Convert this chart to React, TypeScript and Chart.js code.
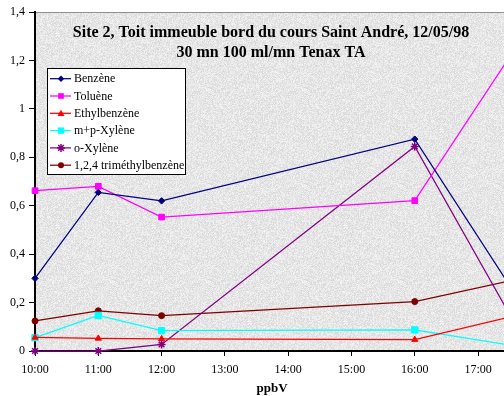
import React, { useEffect, useRef } from "react";
import { Chart, registerables } from "chart.js";

Chart.register(...registerables);

const times = [10, 11, 12, 16, 17.5];
const hourTicks = [10, 11, 12, 13, 14, 15, 16, 17];
const seriesLabels = [
  "Benzène",
  "Toluène",
  "Ethylbenzène",
  "m+p-Xylène",
  "o-Xylène",
  "1,2,4 triméthylbenzène",
];
const benzene = [0.3, 0.655, 0.62, 0.875, 0.27];
const toluene = [0.662, 0.68, 0.553, 0.621, 1.215];
const ethylbenzene = [0.056, 0.052, 0.05, 0.047, 0.14];
const mpXylene = [0.055, 0.147, 0.084, 0.087, 0.025];
const oXylene = [0, 0, 0.027, 0.845, 0.15];
const trimethylbenzene = [0.124, 0.166, 0.146, 0.204, 0.29];
const titleLines = [
  "Site 2, Toit immeuble bord du cours Saint André, 12/05/98",
  "30 mn 100 ml/mn Tenax TA",
];
const xAxisTitle = "ppbV";

const colors = ["#000080", "#FF00FF", "#FF0000", "#00FFFF", "#800080", "#800000"];
const markers = ["rectRot", "rect", "triangle", "rect", "star", "circle"];
const radii = [3.2, 4, 3.5, 4.5, 4, 3];

function makeTexture(): HTMLCanvasElement {
  const c = document.createElement("canvas");
  c.width = 96;
  c.height = 96;
  const ctx = c.getContext("2d")!;
  const img = ctx.createImageData(96, 96);
  for (let y = 0; y < 96; y++) {
    for (let x = 0; x < 96; x++) {
      let h = (x * 374761393 + y * 668265263) | 0;
      h = Math.imul(h ^ (h >>> 13), 1274126177);
      h = h ^ (h >>> 16);
      const n = (h & 255) / 255;
      const v = Math.round(230 + (n - 0.5) * 28);
      const i = (y * 96 + x) * 4;
      img.data[i] = v;
      img.data[i + 1] = v;
      img.data[i + 2] = v;
      img.data[i + 3] = 255;
    }
  }
  ctx.putImageData(img, 0, 0);
  return c;
}

function drawMarker(ctx: any, style: string, r: number, x: number, y: number, color: string) {
  ctx.save();
  ctx.fillStyle = color;
  ctx.strokeStyle = color;
  ctx.lineWidth = 1;
  ctx.beginPath();
  if (style === "circle") {
    ctx.arc(x, y, r, 0, Math.PI * 2);
    ctx.fill();
  } else if (style === "rect") {
    const s = r * Math.SQRT1_2 * 2;
    ctx.fillRect(x - s / 2, y - s / 2, s, s);
  } else if (style === "rectRot") {
    ctx.moveTo(x, y - r);
    ctx.lineTo(x + r, y);
    ctx.lineTo(x, y + r);
    ctx.lineTo(x - r, y);
    ctx.closePath();
    ctx.fill();
  } else if (style === "triangle") {
    ctx.moveTo(x, y - r);
    ctx.lineTo(x + r, y + r * 0.8);
    ctx.lineTo(x - r, y + r * 0.8);
    ctx.closePath();
    ctx.fill();
  } else if (style === "star") {
    for (let k = 0; k < 4; k++) {
      const a = (k * Math.PI) / 4;
      ctx.moveTo(x - Math.cos(a) * r, y - Math.sin(a) * r);
      ctx.lineTo(x + Math.cos(a) * r, y + Math.sin(a) * r);
    }
    ctx.lineWidth = 1.5;
    ctx.stroke();
  }
  ctx.restore();
}

export default function App() {
  const ref = useRef<HTMLCanvasElement | null>(null);

  useEffect(() => {
    if (!ref.current) return;
    const texture = makeTexture();
    const allSeries = [benzene, toluene, ethylbenzene, mpXylene, oXylene, trimethylbenzene];

    const bgPlugin = {
      id: "bgPlugin",
      beforeDraw(chart: any) {
        const { ctx, chartArea } = chart;
        ctx.save();
        ctx.fillStyle = "#ffffff";
        ctx.fillRect(0, 0, chart.width, chart.height);
        const pat = ctx.createPattern(texture, "repeat");
        ctx.fillStyle = pat || "#e6e6e6";
        ctx.fillRect(chartArea.left, chartArea.top, chart.width - chartArea.left, chartArea.bottom - chartArea.top);
        ctx.strokeStyle = "#909090";
        ctx.lineWidth = 1;
        ctx.beginPath();
        ctx.moveTo(chartArea.left, chartArea.top + 0.5);
        ctx.lineTo(chart.width, chartArea.top + 0.5);
        ctx.stroke();
        ctx.restore();
      },
    };

    const overlayPlugin = {
      id: "overlayPlugin",
      afterDraw(chart: any) {
        const { ctx } = chart;
        ctx.save();
        ctx.fillStyle = "#000";
        ctx.font = "bold 16px 'Liberation Serif'";
        ctx.textAlign = "center";
        ctx.textBaseline = "middle";
        ctx.fillText(titleLines[0], 271, 33);
        ctx.fillText(titleLines[1], 271, 53);
        ctx.font = "bold 13px 'Liberation Serif'";
        ctx.fillText(xAxisTitle, 272, 389);
        const lx = 47, ly = 68, lw = 138, lh = 106;
        ctx.fillStyle = "#ffffff";
        ctx.fillRect(lx, ly, lw, lh);
        ctx.strokeStyle = "#000";
        ctx.lineWidth = 1;
        ctx.strokeRect(lx + 0.5, ly + 0.5, lw, lh);
        ctx.font = "12px 'Liberation Serif'";
        ctx.textAlign = "left";
        chart.data.datasets.forEach((ds: any, i: number) => {
          const y = 78.7 + i * 17.3;
          ctx.strokeStyle = ds.borderColor;
          ctx.lineWidth = 1.25;
          ctx.beginPath();
          ctx.moveTo(50, y);
          ctx.lineTo(71, y);
          ctx.stroke();
          drawMarker(ctx, ds.pointStyle, ds.pointRadius, 61, y, ds.borderColor);
          ctx.fillStyle = "#000";
          ctx.fillText(ds.label, 74, y + 0.5);
        });
        ctx.restore();
      },
    };

    const chart = new Chart(ref.current, {
      type: "line",
      data: {
        datasets: allSeries.map((s, i) => ({
          label: seriesLabels[i],
          data: s.map((v, j) => ({ x: times[j], y: v })),
          borderColor: colors[i],
          backgroundColor: colors[i],
          pointBackgroundColor: colors[i],
          pointBorderColor: colors[i],
          pointStyle: markers[i] as any,
          pointRadius: radii[i],
          pointBorderWidth: markers[i] === "star" ? 1.5 : 1,
          borderWidth: 1.25,
          tension: 0,
          fill: false,
          clip: false as any,
        })),
      },
      options: {
        animation: false,
        responsive: false,
        devicePixelRatio: 1,
        layout: { autoPadding: false, padding: { left: 0, top: 12, right: 0, bottom: 0 } },
        plugins: {
          legend: { display: false },
          title: { display: false },
          tooltip: { enabled: false },
        },
        scales: {
          x: {
            type: "linear",
            min: 10,
            max: 17.41,
            afterFit(scale: any) {
              scale.height = 45;
              scale.paddingLeft = 0;
              scale.paddingRight = 0;
            },
            afterBuildTicks(scale: any) {
              scale.ticks = hourTicks.map((v) => ({ value: v }));
            },
            grid: {
              display: true,
              drawOnChartArea: false,
              drawTicks: true,
              tickLength: 5,
              color: "#000",
            },
            border: { display: true, color: "#000", width: 2 },
            ticks: {
              autoSkip: false,
              maxRotation: 0,
              padding: 7,
              color: "#000",
              font: { family: "'Liberation Serif'", size: 12 },
              callback: (v: any) => `${v}:00`,
            },
          },
          y: {
            type: "linear",
            min: 0,
            max: 1.4,
            afterFit(scale: any) {
              scale.width = 35;
              scale.paddingTop = 0;
              scale.paddingBottom = 0;
            },
            grid: {
              display: true,
              drawOnChartArea: false,
              drawTicks: true,
              tickLength: 6,
              color: "#000",
            },
            border: { display: true, color: "#000", width: 2 },
            ticks: {
              stepSize: 0.2,
              padding: 4,
              color: "#000",
              font: { family: "'Liberation Serif'", size: 12 },
              callback: (v: any) => String(Math.round(Number(v) * 10) / 10).replace(".", ","),
            },
          },
        },
      },
      plugins: [bgPlugin, overlayPlugin],
    });
    return () => chart.destroy();
  }, []);

  return (
    <div style={{ position: "absolute", left: 0, top: 0, width: 504, height: 396, overflow: "hidden" }}>
      <canvas ref={ref} width={504} height={396} style={{ display: "block" }} />
    </div>
  );
}
